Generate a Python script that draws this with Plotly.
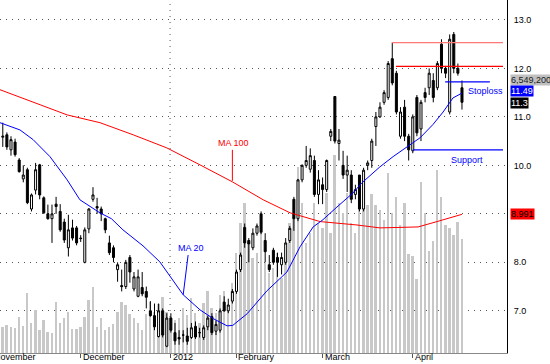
import plotly.graph_objects as go

# ---------------- data ----------------
bar_index = list(range(113))

opens = [10.58,10.63,10.32,10.48,10.11,9.72,9.91,9.10,9.49,10.01,
         9.33,9.00,8.90,9.20,9.05,8.83,8.30,8.71,8.71,8.50,
         8.00,8.69,9.30,9.15,9.10,8.90,8.40,8.30,7.85,7.52,
         7.50,8.10,7.45,7.30,7.48,7.40,7.00,6.90,6.47,7.00,
         6.27,6.85,6.55,6.45,6.50,6.48,6.45,6.68,6.55,6.45,
         6.67,6.88,6.58,6.60,7.18,7.00,7.20,7.40,7.85,8.72,
         8.45,8.30,8.60,9.00,8.45,7.95,8.25,8.10,7.95,8.00,
         8.45,9.30,8.90,9.70,10.00,9.92,10.10,9.40,9.60,9.50,
         10.60,11.42,10.45,10.00,9.80,9.80,9.40,9.80,9.10,10.00,
         10.10,10.80,11.00,11.30,11.40,12.20,11.90,10.60,11.20,10.60,
         10.30,11.40,10.75,11.50,11.60,11.75,11.60,12.50,12.00,11.10,
         12.70,12.00,11.60]
highs = [10.88,10.68,10.60,10.55,10.15,10.00,9.95,9.42,10.05,10.03,
         9.36,9.19,9.19,9.35,9.20,8.90,8.98,8.88,8.75,8.56,
         8.72,9.12,9.55,9.33,9.15,8.92,8.55,8.35,8.00,7.85,
         8.05,8.15,7.80,7.85,7.80,7.50,7.20,7.15,7.15,7.05,
         6.95,6.95,6.75,6.60,6.60,6.65,6.75,6.78,6.65,6.70,
         6.90,6.95,6.80,7.05,7.30,7.25,7.45,7.85,8.20,8.80,
         8.50,8.70,8.80,9.05,8.60,8.15,8.30,8.20,8.20,8.50,
         8.75,9.35,9.72,10.02,10.40,10.35,10.20,9.90,9.75,10.12,
         10.75,11.42,10.75,10.30,10.20,9.90,9.60,9.80,9.95,10.10,
         10.55,11.10,11.30,11.55,12.15,12.53,11.95,11.20,11.35,10.65,
         11.05,11.45,11.35,11.60,12.00,11.90,12.15,12.60,12.05,12.70,
         12.75,12.10,11.75]
lows = [10.38,10.32,10.20,10.18,9.85,9.65,9.20,9.05,9.40,9.30,
        9.00,8.88,8.40,9.00,8.63,8.40,8.12,8.45,8.35,8.42,
        7.98,8.60,9.25,9.00,8.85,8.60,8.15,8.00,7.60,7.40,
        7.45,7.58,7.40,7.28,7.30,7.05,6.88,6.60,6.45,6.45,
        6.25,6.55,6.30,6.30,6.35,6.30,6.42,6.42,6.45,6.40,
        6.60,6.50,6.50,6.55,6.98,6.95,7.15,7.35,7.80,8.30,
        8.00,8.25,8.55,8.58,8.00,7.80,7.95,7.70,7.75,7.95,
        8.40,8.65,8.85,9.65,9.95,9.85,9.35,9.20,9.20,9.45,
        10.50,10.45,10.10,9.72,9.45,9.22,9.30,9.05,9.05,9.90,
        9.95,10.40,10.98,11.25,11.35,11.65,11.05,10.55,10.50,10.10,
        10.25,10.60,10.50,11.30,11.45,11.30,11.55,11.90,11.80,11.05,
        11.90,11.85,11.15]
closes = [10.60,10.38,10.53,10.22,9.87,9.80,9.23,9.39,9.91,9.39,
          9.02,8.90,9.00,9.15,8.67,8.46,8.67,8.50,8.40,8.49,
          8.67,9.10,9.39,9.12,9.00,8.67,8.20,8.10,7.95,7.50,
          8.00,7.80,7.70,7.70,7.35,7.28,6.90,6.67,7.00,6.50,
          6.85,6.60,6.38,6.42,6.50,6.37,6.65,6.46,6.55,6.65,
          6.85,6.55,6.72,7.00,7.00,7.12,7.40,7.80,8.15,8.40,
          8.38,8.60,8.75,8.62,8.22,7.85,8.00,8.00,8.10,8.40,
          8.70,8.90,9.70,10.00,10.10,10.20,9.40,9.70,9.50,10.10,
          10.70,10.50,10.52,9.80,9.90,9.30,9.50,9.10,9.90,10.05,
          10.50,11.00,11.20,11.50,12.10,11.70,11.10,11.10,10.60,10.32,
          11.00,10.67,11.30,11.40,11.90,11.40,12.10,12.00,11.90,12.60,
          12.00,11.90,11.30]
# volume in millions of shares
volumes = [1.49,1.61,1.49,1.44,2.07,1.55,3.45,1.72,2.47,1.32,
           1.90,1.21,1.15,2.93,1.72,2.01,2.36,1.38,1.38,1.49,
           2.07,3.04,3.79,1.49,2.01,1.32,1.49,1.67,2.36,2.93,
           2.76,2.24,2.01,1.72,1.32,2.24,2.93,2.36,2.82,3.22,
           2.36,2.07,1.90,2.01,2.59,2.18,3.16,2.30,1.72,2.87,
           3.56,2.59,2.30,3.33,3.56,2.76,4.02,5.75,7.47,8.62,
           6.32,5.46,5.75,6.89,5.17,4.60,4.88,5.75,4.31,5.46,
           7.47,8.04,10.69,8.62,6.32,6.89,8.62,7.47,7.18,9.19,
           6.89,11.38,8.62,8.04,9.19,7.47,6.89,8.62,10.05,8.50,
           9.13,8.50,8.22,7.64,10.34,8.04,8.96,7.35,8.62,5.69,
           5.57,4.25,9.82,8.04,5.86,6.43,10.51,8.96,7.35,7.18,
           6.78,7.53,6.5492]

ma20_x = [-0.7,4.2,7.4,11.5,15.7,18.8,23.7,26.5,29.3,34.2,38.3,40.8,44,48.1,51.3,54.7,56.1,
          59.6,64.4,69.3,72.5,75.7,78.1,81.5,85.4,87.6,92,95.2,98.6,101.8,104.9,107.4,109.8,112]
ma20_y = [10.88,10.73,10.53,10.18,9.70,9.29,9.02,8.90,8.67,8.34,8.01,7.70,7.33,7.02,6.84,6.69,6.70,
          6.94,7.41,7.80,8.32,8.73,8.88,9.14,9.43,9.64,9.97,10.18,10.38,10.57,10.84,11.10,11.39,11.49]
ma100_x = [-0.7,4.2,9.1,15.7,23.7,31.8,40.0,48.1,56.0,63.5,70.1,77.4,86.4,92.0,101.3,105.9,112]
ma100_y = [11.56,11.41,11.25,11.04,10.88,10.63,10.36,10.01,9.66,9.29,9.02,8.84,8.77,8.71,8.73,8.84,8.99]

month_pos = [19, 41, 57, 78, 100]
month_labels = ["December", "2012", "February", "March", "April"]
first_month_label = "November"   # its tick lies just left of the visible range
year_pos = 40.8

level_names = ["res_high", "res_low", "stoploss", "support"]
level_values = [12.53, 12.04, 11.72, 10.32]
level_start = [94.9, 95.9, 107.9, 100.0]
level_end = [122.0, 122.0, 118.8, 122.0]
level_colors = ["#ff7777", "#ff0000", "#0000ff", "#0000ff"]

price_ticks = [7, 8, 9, 10, 11, 12, 13]
hidden_tick = 9  # covered by the MA 100 value box in the reference
last_volume_text = "6,549,200"
last_ma20_text = "11.49"
last_close_text = "11.3"
last_ma100_text = "8.991"

FONT = "Liberation Sans"

fig = go.Figure()

# volume (base axis)
fig.add_trace(go.Bar(x=bar_index, y=volumes, marker_color="#c8c8c8", marker_line_width=0,
                     width=0.45, xaxis="x", yaxis="y", showlegend=False, hoverinfo="skip"))

# moving averages
fig.add_trace(go.Scatter(x=ma100_x, y=ma100_y, mode="lines", line=dict(color="#ff0000", width=1),
                         yaxis="y2", showlegend=False, hoverinfo="skip"))
fig.add_trace(go.Scatter(x=ma20_x, y=ma20_y, mode="lines", line=dict(color="#0000ff", width=1),
                         yaxis="y2", showlegend=False, hoverinfo="skip"))

# candles
fig.add_trace(go.Candlestick(x=bar_index, open=opens, high=highs, low=lows, close=closes,
                             increasing=dict(line=dict(color="black", width=1), fillcolor="white"),
                             decreasing=dict(line=dict(color="black", width=1), fillcolor="black"),
                             yaxis="y2", showlegend=False, hoverinfo="skip"))

# horizontal levels
for v, s, e, c in zip(level_values, level_start, level_end, level_colors):
    fig.add_trace(go.Scatter(x=[s, e], y=[v, v], mode="lines", line=dict(color=c, width=1.3),
                             yaxis="y2", showlegend=False, hoverinfo="skip"))

# label pointers
fig.add_trace(go.Scatter(x=[56.0, 56.0], y=[10.32, 9.68], mode="lines", line=dict(color="#ff0000", width=1),
                         yaxis="y2", showlegend=False, hoverinfo="skip"))
fig.add_trace(go.Scatter(x=[45.2, 44.0], y=[8.15, 7.33], mode="lines", line=dict(color="#0000ff", width=1),
                         yaxis="y2", showlegend=False, hoverinfo="skip"))

# year separator
fig.add_shape(type="line", x0=year_pos, x1=year_pos, y0=0, y1=1, xref="x", yref="paper",
              line=dict(color="#555555", width=1, dash="1px,5px"), layer="below")

ann = []
ann.append(dict(x=0, y=0, xref="paper", yref="paper", text=first_month_label, showarrow=False,
                xanchor="left", yanchor="top", xshift=-7, yshift=2, borderpad=0,
                font=dict(family=FONT, size=9, color="black")))
for p, t in zip(month_pos, month_labels):
    ann.append(dict(x=p, y=0, xref="x", yref="paper", text=t, showarrow=False, xanchor="left",
                    yanchor="top", xshift=1, yshift=2, borderpad=0,
                    font=dict(family=FONT, size=9, color="black")))
ann.append(dict(x=56.2, y=10.46, xref="x", yref="y2", text="MA 100", showarrow=False,
                font=dict(family=FONT, size=9, color="#ff0000")))
ann.append(dict(x=45.8, y=8.30, xref="x", yref="y2", text="MA 20", showarrow=False,
                font=dict(family=FONT, size=9, color="#0000ff")))
ann.append(dict(x=113.0, y=11.54, xref="x", yref="y2", text="Stoploss", showarrow=False, xanchor="left",
                font=dict(family=FONT, size=9, color="#0000ff")))
ann.append(dict(x=108.8, y=10.11, xref="x", yref="y2", text="Support", showarrow=False, xanchor="left",
                font=dict(family=FONT, size=9, color="#0000ff")))

for txt, yv, bg, fg in [(last_volume_text, 11.77, "#c0c0c0", "#202020"),
                        (last_ma20_text, 11.53, "#0000ff", "white"),
                        (last_close_text, 11.29, "black", "white"),
                        (last_ma100_text, 8.99, "#ff0000", "black")]:
    ann.append(dict(x=1, y=yv, xref="paper", yref="y2", text=txt, showarrow=False, xanchor="left",
                    xshift=3, bgcolor=bg, borderpad=0, font=dict(family=FONT, size=9, color=fg)))

fig.update_layout(
    width=550, height=364,
    margin=dict(l=0, r=43, t=0, b=11),
    paper_bgcolor="white", plot_bgcolor="white",
    font=dict(family=FONT, size=9, color="black"),
    showlegend=False,
    bargap=0,
    xaxis=dict(range=[-0.68, 122.98], rangeslider=dict(visible=False), showgrid=False, zeroline=False,
               tickmode="array", tickvals=month_pos, ticktext=["" for _ in month_pos],
               ticks="outside", ticklen=4, tickcolor="#555555", showline=True, linecolor="#888888",
               linewidth=1, fixedrange=True),
    yaxis=dict(range=[0, 20.28], visible=False, showgrid=False, fixedrange=True),
    yaxis2=dict(range=[6.13, 13.41], overlaying="y", side="right", tickmode="array",
                tickvals=price_ticks,
                ticktext=["" if v == hidden_tick else "%.1f" % v for v in price_ticks],
                showgrid=True, gridcolor="#555555", griddash="1px,5px", gridwidth=1,
                zeroline=False, showline=True, linecolor="black", linewidth=1,
                ticks="outside", ticklen=4, tickcolor="white",
                tickfont=dict(family=FONT, size=9, color="black"), fixedrange=True),
    annotations=ann,
)

fig.write_html("out.html")
